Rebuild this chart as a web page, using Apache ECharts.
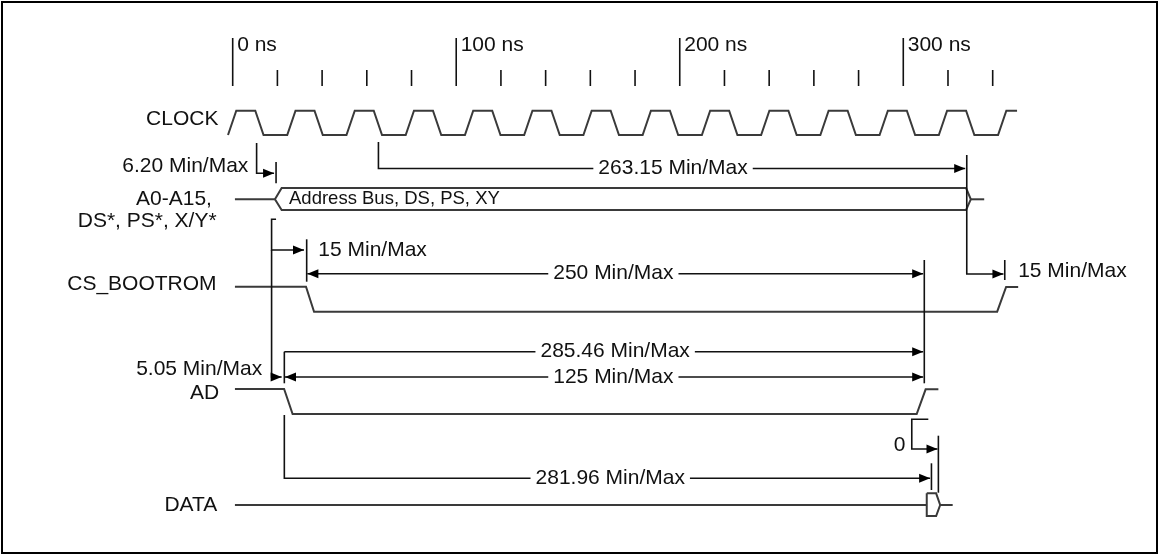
<!DOCTYPE html>
<html><head><meta charset="utf-8">
<script src="https://cdn.jsdelivr.net/npm/echarts@6/dist/echarts.min.js"></script>
<style>html,body{margin:0;padding:0;background:#fff}#chart{width:1159px;height:555px}</style>
</head><body><div id="chart"></div>
<script>
// ---------- time axis (ns) ----------
const majorTicks = [0, 100, 200, 300];
const minorTicks = [20, 40, 60, 80, 120, 140, 160, 180, 220, 240, 260, 280, 320, 340];
const tickLabels = ['0 ns', '100 ns', '200 ns', '300 ns'];

// ---------- signal names (time of right edge, row) ----------
const signalNames = ['CLOCK', 'A0-A15,', 'DS*, PS*, X/Y*', 'CS_BOOTROM', 'AD', 'DATA'];
const signalNameT = [-6.4, -9.3, -7.2, -7.2, -6.1, -6.9];
const signalNameY = [119.3, 199.3, 221.7, 284, 393.3, 505];

// ---------- clock ----------
const clockRises = [-2.1, 24.4, 50.9, 77.4, 103.9, 130.4, 156.9, 183.4, 209.9, 236.4, 262.9, 289.4, 315.9, 342.4];
const clockEnd = 350.9;
const clockLevels = [110.7, 135];      // high row, low row
const clockEdgeNs = 3.7;
const clockHighNs = 8.5;

// ---------- other waveforms [ns, row] ----------
const busLead  = [[1.0, 199.3], [18.9, 199.3]];
const busShape = [[18.9, 199.3], [21.9, 188], [328.1, 188], [330.2, 199.3], [328.1, 210], [21.9, 210], [18.9, 199.3]];
const busTail  = [[330.2, 199.3], [336.2, 199.3]];
const csBootrom = [[1.0, 286.7], [32.8, 286.7], [36.4, 311.7], [342.0, 311.7], [346.0, 287], [351.4, 287]];
const adSignal  = [[1.0, 389], [23.0, 389], [26.8, 414], [306.0, 414], [310.0, 389.3], [315.7, 389.3]];
const dataLine  = [[1.0, 505], [310.5, 505]];
const dataBox   = [[310.5, 493.3], [314.7, 493.3], [316.5, 505], [314.7, 516], [310.5, 516], [310.5, 493.3]];
const dataTail  = [[316.5, 505], [322.1, 505]];

// ---------- timing annotations [ns, row] ----------
const arrow620   = [[10.7, 143], [10.7, 173.3], [18.5, 173.3]];
const tick620    = [[19.4, 162], [19.4, 183.3]];
const arrow26315 = [[65.2, 142], [65.2, 168.5], [327.7, 168.5]];
const arrow15b   = [[328.4, 155], [328.4, 274], [344.8, 274]];
const tick15b    = [[345.4, 260], [345.4, 280]];
const arrow15a   = [[19.4, 219.3], [17.4, 219.3], [17.4, 250], [31.9, 250]];
const arrow505   = [[17.4, 250], [17.4, 377], [21.9, 377]];
const tick15a    = [[33.1, 239.3], [33.1, 281.7]];
const arrow250   = [[33.4, 273.7], [308.9, 273.7]];
const tickEnd    = [[309.4, 260], [309.4, 383.3]];
const tick505    = [[23.1, 351.7], [23.1, 383.3]];
const arrow28546 = [[23.1, 351.7], [308.9, 351.7]];
const arrow125   = [[23.4, 377], [308.9, 377]];
const arrow28196 = [[23.1, 415], [23.1, 478.3], [312.0, 478.3]];
const tick28196  = [[312.6, 463.3], [312.6, 490]];
const arrow0     = [[311.2, 419.3], [303.8, 419.3], [303.8, 449], [315.3, 449]];
const tick0      = [[315.7, 435.7], [315.7, 492.7]];

const annotationTexts = ['6.20 Min/Max', '263.15 Min/Max', '15 Min/Max', '250 Min/Max', '15 Min/Max', '5.05 Min/Max', '285.46 Min/Max', '125 Min/Max', '0', '281.96 Min/Max'];
const annotationT     = [7.0, 197.0, 38.3, 170.3, 351.4, 13.2, 171.1, 170.3, 298.3, 168.9];
const annotationY     = [166.7, 168.5, 250, 273.7, 271.7, 369.3, 351.7, 377, 445, 478.3];
const annotationAlign = ['right', 'center', 'left', 'center', 'left', 'right', 'center', 'center', 'center', 'center'];

const busText = ['Address Bus, DS, PS, XY'];
const busTextT = [25.2];
const busTextY = [199.3];

// ---------- build ----------
const clockPts = [];
clockRises.forEach(r => {
  const lo = clockLevels[1], hi = clockLevels[0];
  clockPts.push([r, lo], [r + clockEdgeNs, hi]);
  const fs = r + clockEdgeNs + clockHighNs;
  if (fs < clockEnd) clockPts.push([fs, hi], [fs + clockEdgeNs, lo]);
  else clockPts.push([clockEnd, hi]);
});

const WAVE = {stroke: '#3a3a3a', lineWidth: 2, fill: null};
const ANNO = {stroke: '#111', lineWidth: 1.6, fill: null};
const paths = [];
[clockPts, busLead, busShape, busTail, csBootrom, adSignal, dataLine, dataBox, dataTail].forEach(p => paths.push({pts: p, style: WAVE}));
majorTicks.forEach(t => paths.push({pts: [[t, 38], [t, 86]], style: ANNO}));
minorTicks.forEach(t => paths.push({pts: [[t, 70], [t, 86]], style: ANNO}));
[tick620, tick15b, tick15a, tickEnd, tick505, tick28196, tick0].forEach(p => paths.push({pts: p, style: ANNO}));
[arrow620, arrow26315, arrow15b, arrow15a, arrow505, arrow28546, arrow28196, arrow0].forEach(p => paths.push({pts: p, style: ANNO, end: true}));
[arrow250, arrow125].forEach(p => paths.push({pts: p, style: ANNO, end: true, start: true}));

const FS = 21;
const texts = [];
tickLabels.forEach((s, i) => texts.push({s, t: majorTicks[i] + 2.0, y: 45, align: 'left', size: FS}));
signalNames.forEach((s, i) => texts.push({s, t: signalNameT[i], y: signalNameY[i], align: 'right', size: FS}));
annotationTexts.forEach((s, i) => texts.push({s, t: annotationT[i], y: annotationY[i], align: annotationAlign[i], size: FS, bg: annotationAlign[i] === 'center'}));
busText.forEach((s, i) => texts.push({s, t: busTextT[i], y: busTextY[i], align: 'left', size: 18.5}));

function head(tip, from) {
  const dx = tip[0] - from[0], dy = tip[1] - from[1];
  const L = Math.hypot(dx, dy) || 1, ux = dx / L, uy = dy / L;
  const len = 11, hw = 4.5;
  const bx = tip[0] - ux * len, by = tip[1] - uy * len;
  return {type: 'polygon', shape: {points: [tip, [bx - uy * hw, by + ux * hw], [bx + uy * hw, by - ux * hw]]}, style: {fill: '#000'}};
}

const FONT = '"Liberation Sans", Arial, Helvetica, sans-serif';
const chart = echarts.init(document.getElementById('chart'), null, {renderer: 'canvas'});
chart.setOption({
  animation: false,
  backgroundColor: '#fff',
  grid: {left: 0, right: 0, top: 0, bottom: 0},
  xAxis: {type: 'value', min: -104.1, max: 414.4, show: false},
  yAxis: {type: 'value', min: 0, max: 555, inverse: true, show: false},
  graphic: [{type: 'rect', shape: {x: 2, y: 2, width: 1155, height: 551}, style: {fill: null, stroke: '#000', lineWidth: 2}, z: 100}],
  series: [
    {
      type: 'custom', coordinateSystem: 'cartesian2d', clip: false,
      data: paths.map((p, i) => [p.pts[0][0], p.pts[0][1], i]),
      encode: {x: 0, y: 1},
      renderItem: (params, api) => {
        const p = paths[api.value(2)];
        const pts = p.pts.map(q => api.coord(q));
        const children = [{type: 'polyline', shape: {points: pts}, style: p.style}];
        if (p.end) children.push(head(pts[pts.length - 1], pts[pts.length - 2]));
        if (p.start) children.push(head(pts[0], pts[1]));
        return {type: 'group', children};
      }
    },
    {
      type: 'custom', coordinateSystem: 'cartesian2d', clip: false, z: 5,
      data: texts.map((t, i) => [t.t, t.y, i]),
      encode: {x: 0, y: 1},
      renderItem: (params, api) => {
        const t = texts[api.value(2)];
        const c = api.coord([t.t, t.y]);
        const style = {text: t.s, x: c[0], y: c[1], fill: '#111', fontSize: t.size, fontFamily: FONT, align: t.align, verticalAlign: 'middle'};
        if (t.bg) { style.backgroundColor = '#fff'; style.padding = [0, 5]; }
        return {type: 'text', style};
      }
    }
  ]
});
</script></body></html>
